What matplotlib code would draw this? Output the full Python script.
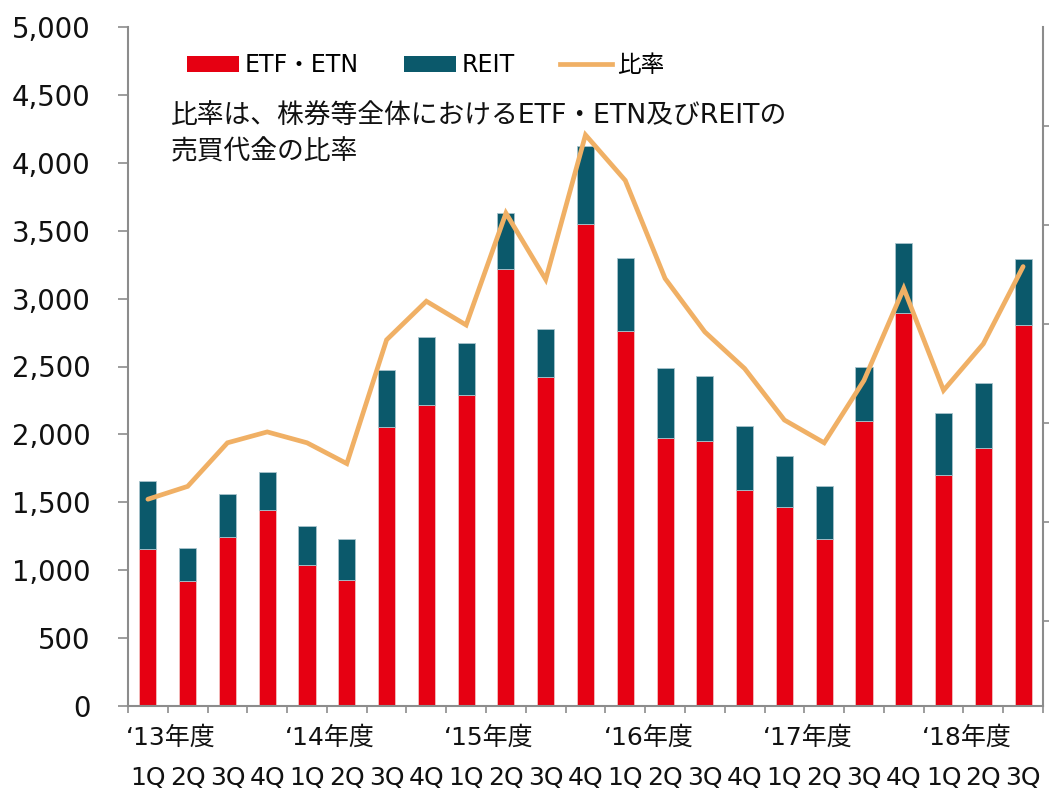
import numpy as np
import matplotlib
matplotlib.use('Agg')
import matplotlib.pyplot as plt
from matplotlib.patches import Patch
from matplotlib.lines import Line2D
from matplotlib.ticker import FuncFormatter

plt.rcParams['font.family'] = ['DejaVu Sans', 'Noto Sans CJK JP']

# data
quarters = ['1Q', '2Q', '3Q', '4Q'] * 5 + ['1Q', '2Q', '3Q']
years = ['‘13年度', '‘14年度', '‘15年度', '‘16年度', '‘17年度', '‘18年度']
total = [1657, 1163, 1561, 1723, 1325, 1230, 2474, 2717, 2673, 3630, 2776, 4124,
         3299, 2489, 2430, 2062, 1841, 1620, 2496, 3410, 2158, 2379, 3292]
etf = [1156, 920, 1245, 1443, 1038, 928, 2055, 2217, 2290, 3218, 2423, 3549,
       2761, 1974, 1951, 1591, 1465, 1230, 2099, 2894, 1701, 1900, 2806]
ratio = [3.23, 3.36, 3.80, 3.91, 3.80, 3.59, 4.84, 5.23, 4.99, 6.12, 5.45, 6.91,
         6.45, 5.46, 4.92, 4.55, 4.03, 3.80, 4.43, 5.36, 4.33, 4.80, 5.58]

reit = [t - e for t, e in zip(total, etf)]

c_etf = '#E60012'
c_reit = '#0B596B'
c_ratio = '#F0B065'
c_axis = '#8C8C8C'


def main():
    fig = plt.figure(figsize=(10.49, 7.94), dpi=100)
    ax = fig.add_axes([128 / 1049, 88 / 794, 915 / 1049, 679 / 794])
    ax2 = ax.twinx()
    ax.set_zorder(2)
    ax.patch.set_visible(False)
    ax2.set_zorder(1)

    x = np.arange(len(total))
    ax.bar(x, etf, width=0.43, color=c_etf, edgecolor='#f2c0c0', linewidth=0.6, zorder=2)
    ax.bar(x, reit, width=0.43, bottom=etf, color=c_reit, edgecolor='#a8c4cc',
           linewidth=0.6, zorder=2)

    # ratio line on the (unlabelled) right scale, mapped onto the main axes
    lo, hi = 8 - 679 / 99, 8
    ax2.set_ylim(lo, hi)
    ax.plot(x, [(r - lo) / (hi - lo) * 5000 for r in ratio], color=c_ratio, lw=3.4,
            solid_capstyle='round', solid_joinstyle='miter', zorder=3)

    ax.set_xlim(-0.5, len(total) - 0.5)
    ax.set_ylim(0, 5000)
    ax.set_yticks(np.arange(0, 5001, 500))
    ax.yaxis.set_major_formatter(FuncFormatter(lambda v, p: '{:,.0f}'.format(v)))
    ax.tick_params(axis='y', direction='out', length=7, width=1.2, color=c_axis,
                   labelsize=19.8, pad=20, labelcolor='#111111')
    ax.set_xticks(np.arange(-0.5, len(total), 1.0))
    ax.set_xticklabels([])
    ax.tick_params(axis='x', direction='out', length=5, width=1.2, color=c_axis)

    for s in ['top', 'right']:
        ax.spines[s].set_visible(False)
    for s in ['left', 'bottom']:
        ax.spines[s].set_color(c_axis)
        ax.spines[s].set_linewidth(1.5)
    ax2.spines['top'].set_visible(False)
    ax2.spines['left'].set_visible(False)
    ax2.spines['bottom'].set_visible(False)
    ax2.spines['right'].set_color(c_axis)
    ax2.spines['right'].set_linewidth(1.5)
    ax2.set_yticks(np.arange(2, 8, 1))
    ax2.set_yticklabels([])
    ax2.tick_params(axis='y', direction='out', length=5, width=1.2, color=c_axis)

    # category labels
    tr = ax.get_xaxis_transform()
    for i, q in enumerate(quarters):
        ax.text(i, -0.106, q, transform=tr, ha='center', va='center', fontsize=18,
                color='#111111')
    for k, y in enumerate(years):
        ax.text(4 * k - 0.55, -0.047, y, transform=tr, ha='left', va='center',
                fontsize=18, color='#111111')

    handles = [Patch(facecolor=c_etf), Patch(facecolor=c_reit),
               Line2D([0], [0], color=c_ratio, lw=3.4)]
    ax.legend(handles, ['ETF・ETN', 'REIT', '比率'], loc='upper left',
              bbox_to_anchor=(0.041, 0.993), ncol=3, frameon=False, fontsize=17,
              handlelength=2.2, handleheight=0.68, handletextpad=0.25,
              columnspacing=1.9)

    ax.text(0.047, 0.886, '比率は、株券等全体におけるETF・ETN及びREITの\n売買代金の比率',
            transform=ax.transAxes, ha='left', va='top', fontsize=19.3,
            linespacing=1.45, color='#111111')

    fig.savefig('out.png', dpi=100)


if __name__ == '__main__':
    main()
